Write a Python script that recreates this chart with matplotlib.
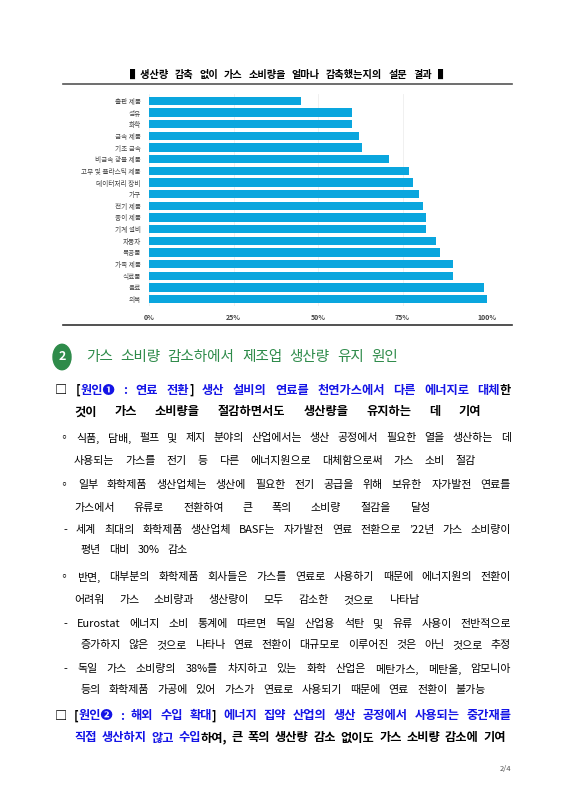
import matplotlib
matplotlib.use("Agg")
import matplotlib.pyplot as plt
from matplotlib.patches import Circle
from matplotlib.lines import Line2D

plt.rcParams['font.family'] = ['Noto Sans CJK KR', 'DejaVu Sans']

categories = ['출판 제품', '섬유', '화학', '금속 제품', '기초 금속', '비금속 광물 제품',
              '고무 및 플라스틱 제품', '데이터처리 장비', '가구', '전기 제품', '종이 제품',
              '기계 설비', '자동차', '목공품', '가죽 제품', '식료품', '음료', '의복']
values = [45, 60, 60, 62, 63, 71, 77, 78, 80, 81, 82, 82, 85, 86, 90, 90, 99, 100]
ticks = [0, 25, 50, 75, 100]
tick_labels = ['0%', '25%', '50%', '75%', '100%']

W, H = 566, 800
fig = plt.figure(figsize=(W / 100, H / 100), dpi=100)

def fx(px):
    return px / W

def fy(py):
    return 1 - py / H

fig.canvas.draw()
renderer = fig.canvas.get_renderer()
BLUE = '#1414e6'

def line(x0, x1, y, parts, size=8, weight='normal'):
    # tokens separated by spaces, each token may contain several coloured pieces
    tokens = [[]]
    for s, c in parts:
        words = s.split(' ')
        for i, w in enumerate(words):
            if i > 0:
                tokens.append([])
            if w:
                tokens[-1].append((w, c))
    tokens = [t for t in tokens if t]
    arts = []
    total = 0
    for tok in tokens:
        group = []
        tw = 0
        for w, c in tok:
            t = fig.text(0, fy(y), w, color=c, fontsize=size, fontweight=weight,
                         ha='left', va='center')
            wpx = t.get_window_extent(renderer).width
            group.append((t, wpx))
            tw += wpx
        arts.append((group, tw))
        total += tw
    gap = (x1 - x0 - total) / max(len(tokens) - 1, 1)
    x = x0
    for group, tw in arts:
        xx = x
        for t, wpx in group:
            t.set_x(fx(xx))
            xx += wpx
        x += tw + gap

# chart
line(130, 448, 75, [('▌생산량 감축 없이 가스 소비량을 얼마나 감축했는지의 설문 결과 ▌', 'black')],
     size=7.3, weight='bold')
fig.add_artist(Line2D([fx(63), fx(512)], [fy(84), fy(84)], color='#555555', lw=1.2))
fig.add_artist(Line2D([fx(63), fx(512)], [fy(325), fy(325)], color='#333333', lw=1.2))

ax = fig.add_axes([fx(149), fy(306), fx(487) - fx(149), fy(94) - fy(306)])
y = list(range(len(categories)))
ax.barh(y, values, height=0.72, color='#0aa6de')
ax.set_yticks(y)
ax.set_yticklabels(categories, fontsize=4.8, color='#444444')
ax.set_xlim(0, 100)
ax.set_ylim(len(categories) - 0.4, -0.6)
ax.set_xticks(ticks)
ax.set_xticklabels(tick_labels, fontsize=5, fontweight='bold', color='#444444')
ax.tick_params(length=0, pad=6)
ax.grid(axis='x', color='#eeeeee', lw=0.6)
ax.set_axisbelow(True)
for s in ax.spines.values():
    s.set_visible(False)

# section heading
fig.add_artist(Circle((fx(62), fy(357)), 9 / W, transform=fig.transFigure,
                      color='#2e8b4a'))
fig.text(fx(62), fy(357), '2', color='white', fontsize=9, fontweight='bold',
         ha='center', va='center')
line(86, 398, 357, [('가스 소비량 감소하에서 제조업 생산량 유지 원인', '#2e8b4a')], size=10.5)

B = 8.8
line(55, 511, 390, [('□ [', 'black'), ('원인❶ : 연료 전환', BLUE), ('] ', 'black'),
                    ('생산 설비의 연료를 천연가스에서 다른 에너지로 대체', BLUE), ('한', 'black')],
     size=B, weight='bold')
line(74, 481, 412, [('것이 가스 소비량을 절감하면서도 생산량을 유지하는 데 기여', 'black')],
     size=B, weight='bold')

body = [
    (58, 511, 438, '◦ 식품, 담배, 펄프 및 제지 분야의 산업에서는 생산 공정에서 필요한 열을 생산하는 데'),
    (74, 476, 461, '사용되는 가스를 전기 등 다른 에너지원으로 대체함으로써 가스 소비 절감'),
    (58, 511, 485, '◦ 일부 화학제품 생산업체는 생산에 필요한 전기 공급을 위해 보유한 자가발전 연료를'),
    (74, 430, 508, '가스에서 유류로 전환하여 큰 폭의 소비량 절감을 달성'),
    (64, 511, 530, '- 세계 최대의 화학제품 생산업체 BASF는 자가발전 연료 전환으로 ’22년 가스 소비량이'),
    (80, 188, 550, '평년 대비 30% 감소'),
    (58, 511, 577, '◦ 반면, 대부분의 화학제품 회사들은 가스를 연료로 사용하기 때문에 에너지원의 전환이'),
    (74, 419, 600, '어려워 가스 소비량과 생산량이 모두 감소한 것으로 나타남'),
    (64, 511, 624, '- Eurostat 에너지 소비 통계에 따르면 독일 산업용 석탄 및 유류 사용이 전반적으로'),
    (80, 511, 645, '증가하지 않은 것으로 나타나 연료 전환이 대규모로 이루어진 것은 아닌 것으로 추정'),
    (64, 511, 669, '- 독일 가스 소비량의 38%를 차지하고 있는 화학 산업은 메탄가스, 메탄올, 암모니아'),
    (80, 486, 690, '등의 화학제품 가공에 있어 가스가 연료로 사용되기 때문에 연료 전환이 불가능'),
]
for x0, x1, yy, s in body:
    line(x0, x1, yy, [(s, 'black')], size=7.9)

line(55, 511, 716, [('□ [', 'black'), ('원인❷ : 해외 수입 확대', BLUE), ('] ', 'black'),
                    ('에너지 집약 산업의 생산 공정에서 사용되는 중간재를', BLUE)],
     size=B, weight='bold')
line(74, 506, 738, [('직접 생산하지 않고 수입', BLUE),
                    ('하여, 큰 폭의 생산량 감소 없이도 가스 소비량 감소에 기여', 'black')],
     size=B, weight='bold')

fig.text(fx(511), fy(769), '2/4', fontsize=5.5, color='#555555', ha='right', va='center')

fig.savefig('out.png', dpi=100)
